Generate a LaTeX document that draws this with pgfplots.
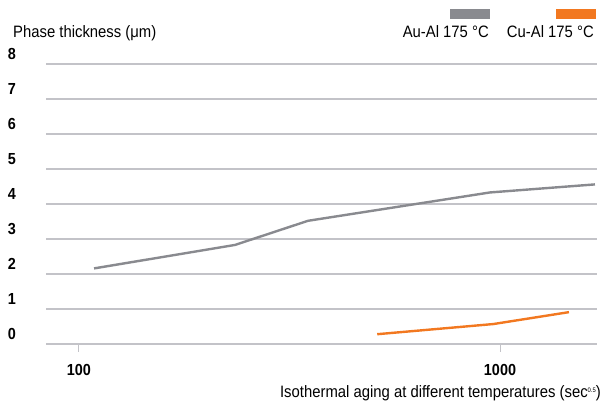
\documentclass[border=0pt]{standalone}
\usepackage{fontspec}
\setmainfont{Liberation Sans}[FakeStretch=0.9]
\usepackage{pgfplots}
\pgfplotsset{compat=1.18}

\definecolor{aucol}{RGB}{137,138,143}
\definecolor{cucol}{RGB}{242,120,32}
\definecolor{gridcol}{RGB}{195,195,200}

\begin{document}
\begin{tikzpicture}[font=\fontsize{16.5bp}{19bp}\selectfont]
\useasboundingbox (0,0) rectangle (605bp,403bp);
\begin{axis}[
    at={(46bp,59bp)}, anchor=south west,
    scale only axis,
    width=551bp, height=280bp,
    xmode=log,
    xmin=83.5, xmax=1700,
    ymin=0, ymax=8,
    xtick={100,1000},
    xticklabels={100,1000},
    xminorticks=false,
    ytick={0,1,...,8},
    axis x line=bottom,
    axis y line=left,
    y axis line style={draw=none},
    x axis line style={draw=gridcol, line width=1.2bp, -},
    ymajorgrids=true,
    grid style={gridcol, line width=1.1bp},
    tick align=outside,
    xtick style={draw=gridcol, line width=1bp},
    ytick style={draw=none},
    major tick length=8bp,
    ticklabel style={font=\fontsize{16bp}{18bp}\selectfont\bfseries},
    /pgf/number format/assume math mode=true,
    yticklabel style={anchor=east, inner sep=0pt, xshift=-22bp, yshift=10bp},
    xticklabel style={anchor=north, inner sep=0pt, yshift=-12bp},
]
\addplot[aucol, line width=2.4bp] coordinates {
    (108.6,2.16) (234.7,2.83) (349.9,3.52) (946.7,4.33) (1681,4.56)
};
\addplot[cucol, line width=2.4bp] coordinates {
    (511,0.28) (964,0.57) (1458,0.91)
};
\end{axis}
% titles
\node[anchor=base west, inner sep=0pt] at (13bp,365.5bp) {Phase thickness (μm)};
\node[anchor=base east, inner sep=0pt] at (601bp,5.5bp)
    {Isothermal aging at different temperatures (sec{\fontsize{6.5bp}{6.5bp}\selectfont\raisebox{5.5bp}{0.5}})};
% legend
\fill[aucol] (450bp,384bp) rectangle (490bp,394bp);
\fill[cucol] (556bp,384bp) rectangle (596bp,394bp);
\node[anchor=base east, inner sep=0pt] at (489bp,365.5bp) {Au-Al 175 °C};
\node[anchor=base east, inner sep=0pt] at (594bp,365.5bp) {Cu-Al 175 °C};
\end{tikzpicture}
\end{document}
